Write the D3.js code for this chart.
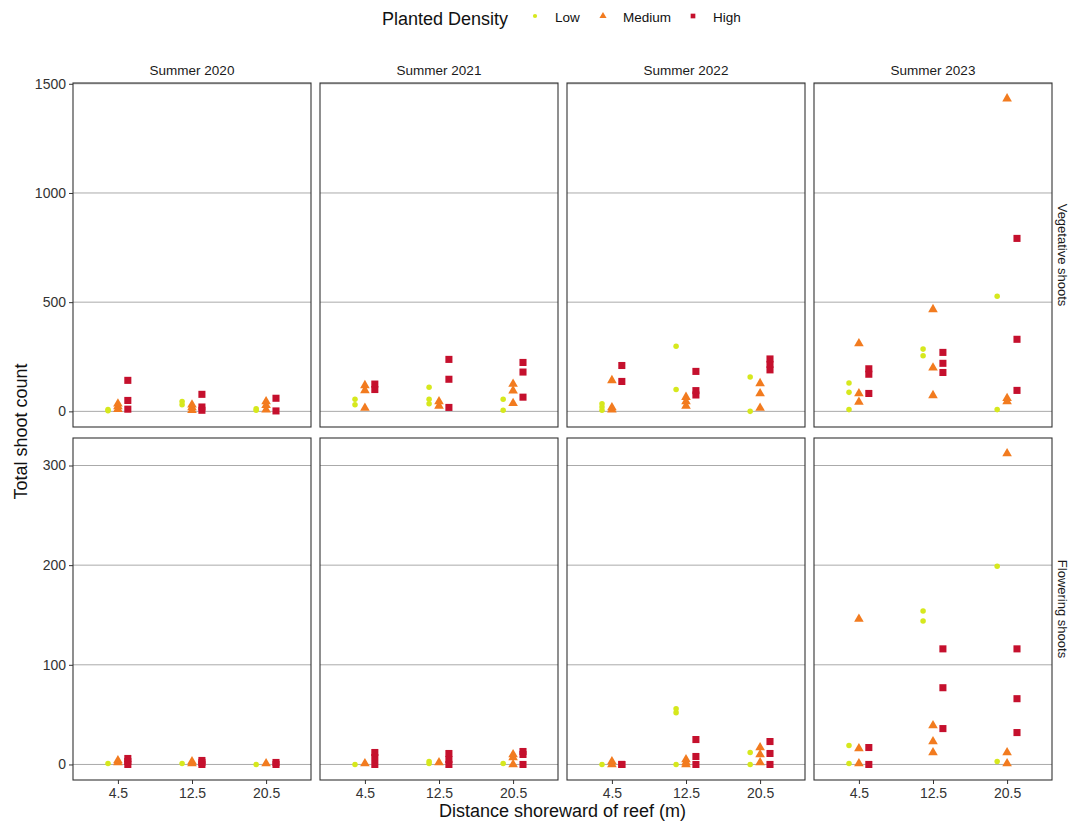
<!DOCTYPE html>
<html>
<head>
<meta charset="utf-8">
<script src="https://cdn.jsdelivr.net/npm/d3@7"></script>
<style>
    body { margin: 0; background: white; }
    text { font-family: "Liberation Sans", Arial, sans-serif; }
</style>
</head>
<body>
<svg width="1070" height="827"></svg>
<script>
// facets and groups
const years = ["Summer 2020", "Summer 2021", "Summer 2022", "Summer 2023"];
const shootTypes = ["Vegetative shoots", "Flowering shoots"];
const distances = [4.5, 12.5, 20.5];
const densities = ["Low", "Medium", "High"];
const densityColors = ["#d6e81d", "#f27b1f", "#c5102d"];

// counts per density, one list per distance (4.5, 12.5, 20.5)
const veg2020 = {
    Low: [[3, 8], [30, 45], [5, 12]],
    Medium: [[10, 22, 35], [5, 18, 30], [8, 28, 45]],
    High: [[10, 50, 142], [5, 20, 78], [2, 60]]
};
const veg2021 = {
    Low: [[30, 55], [35, 55, 110], [5, 55]],
    Medium: [[15, 96, 119], [25, 45], [37, 95, 125]],
    High: [[100, 125], [18, 147, 238], [65, 180, 224]]
};
const veg2022 = {
    Low: [[5, 20, 35], [100, 298], [0, 157]],
    Medium: [[8, 18, 142], [25, 45, 65], [15, 82, 128]],
    High: [[137, 210], [75, 95, 183], [190, 215, 240]]
};
const veg2023 = {
    Low: [[8, 87, 130], [255, 285], [8, 527]],
    Medium: [[43, 82, 311], [73, 200, 467], [45, 60, 1432]],
    High: [[82, 170, 195], [178, 220, 270], [96, 330, 792]]
};
const flw2020 = {
    Low: [[1], [1], [0]],
    Medium: [[2, 4], [1, 3], [1]],
    High: [[0, 3, 6], [0, 2, 4], [0, 2]]
};
const flw2021 = {
    Low: [[0], [1, 3], [1]],
    Medium: [[1], [2], [0, 7, 10]],
    High: [[0, 7, 12], [0, 5, 11], [0, 10, 13]]
};
const flw2022 = {
    Low: [[0], [0, 52, 56], [0, 12]],
    Medium: [[0, 3], [0, 2, 5], [2, 10, 17]],
    High: [[0, 0], [0, 8, 25], [0, 11, 23]]
};
const flw2023 = {
    Low: [[1, 19], [144, 154], [3, 199]],
    Medium: [[1, 16, 146], [12, 23, 39], [1, 12, 312]],
    High: [[0, 17], [36, 77, 116], [32, 66, 116]]
};

const yTicks = [[0, 500, 1000, 1500], [0, 100, 200, 300]];
const panelData = [[veg2020, veg2021, veg2022, veg2023], [flw2020, flw2021, flw2022, flw2023]];

let svg = d3.select("svg");

let panelW = 238, gapX = 9, left = 73,
    rowTop = [83, 438], rowH = [344, 342];

let color = d3.scaleOrdinal().domain(densities).range(densityColors);
let shape = d3.scaleOrdinal().domain(densities)
    .range([d3.symbolCircle, d3.symbolTriangle, d3.symbolSquare]);
let symSize = {Low: 24, Medium: 40, High: 50};
let dodge = d3.scalePoint().domain(densities).range([-1.07, 1.07]);

let x = d3.scaleLinear().domain([-0.35, 25.35]).range([0, panelW]);

// flatten into point records
function points(panel) {
    let out = [];
    densities.forEach(function (dens) {
        panel[dens].forEach(function (vals, i) {
            vals.forEach(function (v) {
                out.push({density: dens, distance: distances[i], value: v});
            });
        });
    });
    return out;
}

shootTypes.forEach(function (type, r) {
    let all = [];
    panelData[r].forEach(function (p) { all = all.concat(points(p)); });
    let ext = d3.extent(all, d => d.value), pad = (ext[1] - ext[0]) * 0.05;
    let y = d3.scaleLinear().domain([ext[0] - pad, ext[1] + pad])
        .range([rowTop[r] + rowH[r], rowTop[r]]);

    years.forEach(function (year, c) {
        let x0 = left + c * (panelW + gapX);
        let g = svg.append("g").attr("transform", "translate(" + x0 + ",0)");

        g.append("g").selectAll("line")
            .data(yTicks[r])
            .enter().append("line")
            .attr("x1", 0).attr("x2", panelW)
            .attr("y1", d => y(d)).attr("y2", d => y(d))
            .attr("stroke", "#aaaaaa")
            .attr("stroke-width", 1);

        g.append("g").selectAll("path")
            .data(points(panelData[r][c]))
            .enter().append("path")
            .attr("transform", d => "translate(" + x(d.distance + dodge(d.density)) + "," + y(d.value) + ")")
            .attr("d", d => d3.symbol().type(shape(d.density)).size(symSize[d.density])())
            .attr("fill", d => color(d.density));

        g.append("rect")
            .attr("x", 0).attr("y", rowTop[r])
            .attr("width", panelW).attr("height", rowH[r])
            .attr("fill", "none")
            .attr("stroke", "#333")
            .attr("stroke-width", 1.1);

        if (r === 0) {
            g.append("text")
                .attr("x", panelW / 2).attr("y", 75)
                .attr("text-anchor", "middle")
                .attr("font-size", 13.5)
                .attr("fill", "#1a1a1a")
                .text(year);
        }
        if (r === 1) {
            let xAxis = d3.axisBottom(x).tickValues(distances).tickSize(4).tickPadding(4)
                .tickFormat(d3.format(".1f"));
            let ax = g.append("g")
                .attr("transform", "translate(0," + (rowTop[r] + rowH[r]) + ")")
                .call(xAxis);
            ax.select(".domain").remove();
            ax.selectAll("line").attr("stroke", "#333");
            ax.selectAll("text").attr("font-size", 14).attr("fill", "#333")
                .attr("font-family", "Liberation Sans, Arial, sans-serif");
        }
        if (c === 0) {
            let yAxis = d3.axisLeft(y).tickValues(yTicks[r]).tickSize(4).tickPadding(3)
                .tickFormat(d3.format("d"));
            let ay = g.append("g").call(yAxis);
            ay.select(".domain").remove();
            ay.selectAll("line").attr("stroke", "#333");
            ay.selectAll("text").attr("font-size", 14).attr("fill", "#333")
                .attr("font-family", "Liberation Sans, Arial, sans-serif");
        }
    });

    // right strip label
    let cy = rowTop[r] + rowH[r] / 2;
    svg.append("text")
        .attr("transform", "translate(1062," + cy + ") rotate(90)")
        .attr("text-anchor", "middle")
        .attr("dominant-baseline", "central")
        .attr("font-size", 13)
        .attr("fill", "#1a1a1a")
        .text(type);
});

// axis titles
svg.append("text")
    .attr("x", left + (4 * panelW + 3 * gapX) / 2).attr("y", 817)
    .attr("text-anchor", "middle")
    .attr("font-size", 18)
    .attr("fill", "#111")
    .text("Distance shoreward of reef (m)");

svg.append("text")
    .attr("transform", "translate(27," + ((rowTop[0] + rowTop[1] + rowH[1]) / 2) + ") rotate(-90)")
    .attr("text-anchor", "middle")
    .attr("font-size", 18)
    .attr("fill", "#111")
    .text("Total shoot count");

// legend
let legend = svg.append("g");
legend.append("text")
    .attr("x", 382).attr("y", 25)
    .attr("font-size", 18)
    .attr("fill", "#111")
    .text("Planted Density");

let legendX = [535, 603, 693];
let item = legend.selectAll(".item")
    .data(densities)
    .enter().append("g")
    .attr("class", "item")
    .attr("transform", (d, i) => "translate(" + legendX[i] + ",16)");

item.append("path")
    .attr("d", d => d3.symbol().type(shape(d)).size(d === "Low" ? 14 : 22)())
    .attr("fill", d => color(d));

item.append("text")
    .attr("x", 20).attr("y", 6)
    .attr("font-size", 13.5)
    .attr("fill", "#111")
    .text(d => d);
</script>
</body>
</html>
